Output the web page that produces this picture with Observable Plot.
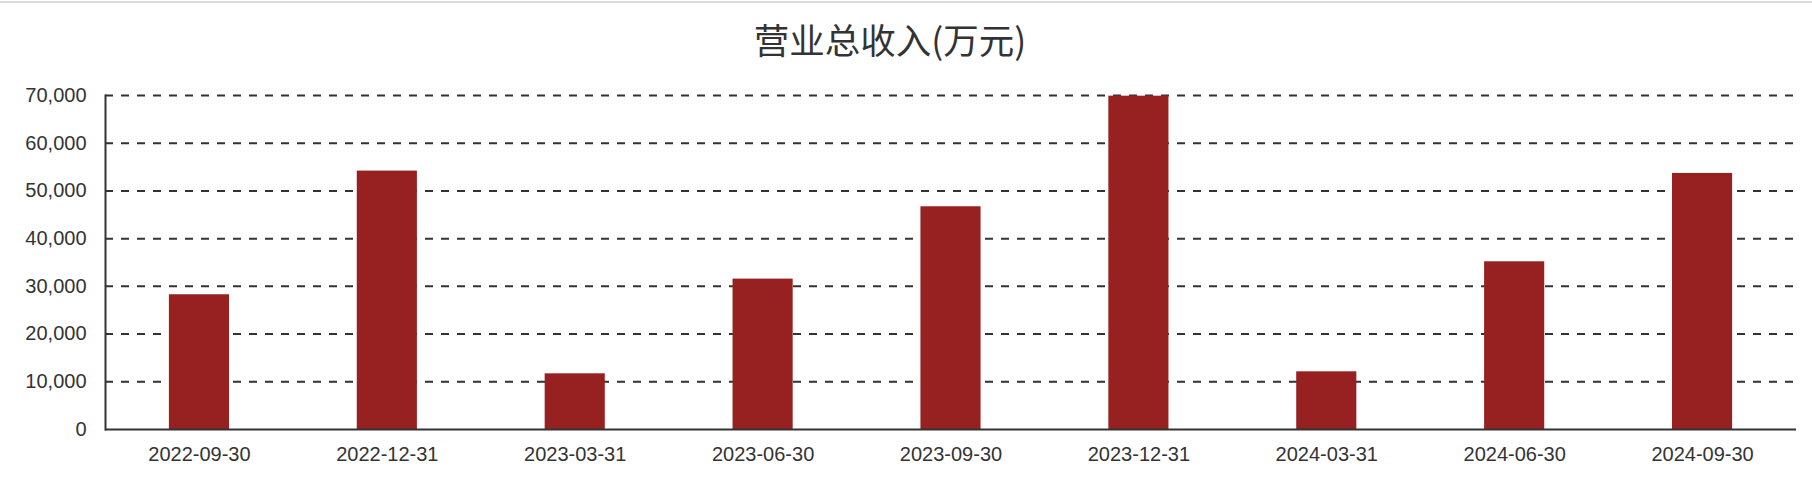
<!DOCTYPE html>
<html><head><meta charset="utf-8">
<script src="https://cdn.jsdelivr.net/npm/d3@7"></script>
<script src="https://cdn.jsdelivr.net/npm/@observablehq/plot@0.6"></script>
<style>
body{margin:0;background:#fff;width:1812px;height:488px;overflow:hidden;position:relative;}
#topline{position:absolute;left:0;top:1px;width:1812px;height:2px;background:#dcdcdc;}
#title{position:absolute;left:0;width:1780px;top:19px;text-align:center;font-family:"Noto Sans CJK SC";font-size:35.5px;line-height:40px;color:#333;}
#chart{position:absolute;left:0;top:70px;}
</style></head><body>
<div id="topline"></div>
<div id="title">营业总收入(万元)</div>
<div id="chart"></div>
<script>
const dates = ["2022-09-30","2022-12-31","2023-03-31","2023-06-30","2023-09-30","2023-12-31","2024-03-31","2024-06-30","2024-09-30"];
const revenue = [28240, 54160, 11670, 31520, 46680, 69860, 12090, 35150, 53670];
const yTicks = [0, 10000, 20000, 30000, 40000, 50000, 60000, 70000];

const data = dates.map((d, i) => ({date: d, value: revenue[i]}));

const chart = Plot.plot({
  width: 1812,
  height: 418,
  marginLeft: 105,
  marginRight: 16,
  marginTop: 25,
  marginBottom: 59,
  style: {fontFamily: "'Liberation Sans', Arial, sans-serif", fontSize: "20px", color: "#333", background: "transparent"},
  x: {domain: dates, paddingInner: 0.68, paddingOuter: 0.34, round: false, label: null},
  y: {domain: [0, 70000], label: null},
  marks: [
    Plot.gridY(yTicks.slice(1), {stroke: "#333", strokeOpacity: 1, strokeWidth: 2, strokeDasharray: "8,8"}),
    Plot.barY(data, {x: "date", y: "value", fill: "#962120"}),
    Plot.ruleY([0], {stroke: "#333", strokeWidth: 2}),
    Plot.frame({anchor: "left", stroke: "#333", strokeWidth: 2}),
    Plot.axisY(yTicks, {tickSize: 0, tickPadding: 19, tickFormat: d3.format(","), fontSize: 20, fill: "#333", label: null}),
    Plot.axisX({tickSize: 0, tickPadding: 17, fontSize: 20, fill: "#333", label: null})
  ]
});
document.getElementById("chart").appendChild(chart);
</script>
</body></html>
